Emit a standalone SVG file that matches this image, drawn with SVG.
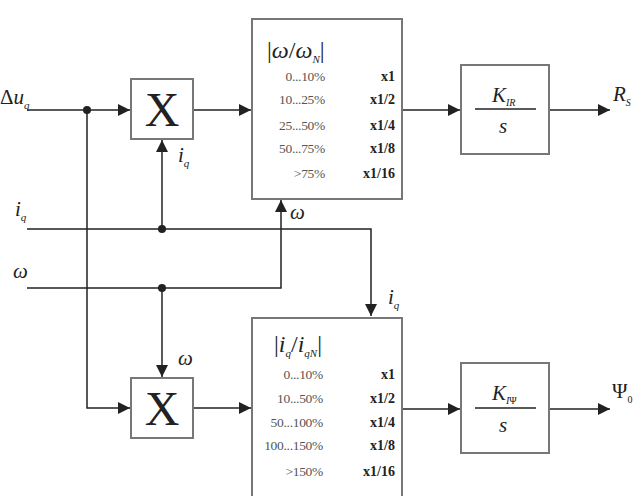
<svg xmlns="http://www.w3.org/2000/svg" width="635" height="496" viewBox="0 0 635 496">
<style>
.box{fill:#fff;stroke:#777;stroke-width:2}
.ln{fill:none;stroke:#222;stroke-width:1.5}
.t{font-family:"Liberation Serif",serif;font-style:italic;fill:#222}
.big{font-family:"Liberation Serif",serif;font-size:48px;fill:#222}
.rg{font-family:"Liberation Serif",serif;font-size:13.5px;fill:#555;text-anchor:end;letter-spacing:-0.3px}
.rb{font-family:"Liberation Serif",serif;font-size:14px;font-weight:bold;fill:#222;text-anchor:end}
</style>
<defs>
<marker id="ah" viewBox="0 0 10 10" refX="10" refY="5" markerWidth="12" markerHeight="12" markerUnits="userSpaceOnUse" orient="auto"><path d="M0,0 L10,5 L0,10 z" fill="#222"/></marker>
</defs>
<g id="connectors">
<path class="ln" d="M27,110 H130" marker-end="url(#ah)"/>
<path class="ln" d="M87,110 V408 H130" marker-end="url(#ah)"/>
<path class="ln" d="M27,229 H371 V316" marker-end="url(#ah)"/>
<path class="ln" d="M162,229 V140" marker-end="url(#ah)"/>
<path class="ln" d="M27,288 H281 V200" marker-end="url(#ah)"/>
<path class="ln" d="M162,288 V377" marker-end="url(#ah)"/>
<path class="ln" d="M193,110 H251" marker-end="url(#ah)"/>
<path class="ln" d="M193,408 H251" marker-end="url(#ah)"/>
<path class="ln" d="M402,110 H460" marker-end="url(#ah)"/>
<path class="ln" d="M402,409 H460" marker-end="url(#ah)"/>
<path class="ln" d="M549,110 H610" marker-end="url(#ah)"/>
<path class="ln" d="M549,409 H610" marker-end="url(#ah)"/>
<circle cx="87" cy="110" r="4" fill="#222"/>
<circle cx="162" cy="229" r="4" fill="#222"/>
<circle cx="162" cy="288" r="4" fill="#222"/>
</g>
<g id="labels">
<text class="t" x="0" y="104" font-size="21"><tspan font-style="normal">Δ</tspan>u<tspan font-size="11" dy="5">q</tspan></text>
<text class="t" x="15" y="216" font-size="21">i<tspan font-size="11" dy="5">q</tspan></text>
<text class="t" x="13" y="278" font-size="21">ω</text>
<text class="t" x="178" y="162" font-size="21">i<tspan font-size="11" dy="5">q</tspan></text>
<text class="t" x="290" y="219" font-size="21">ω</text>
<text class="t" x="388" y="304" font-size="21">i<tspan font-size="11" dy="5">q</tspan></text>
<text class="t" x="178" y="365" font-size="21">ω</text>
<text class="t" x="613" y="101" font-size="21">R<tspan font-size="10" dy="5">S</tspan></text>
<text class="t" x="612" y="398" font-size="21"><tspan font-style="normal">Ψ</tspan><tspan font-size="10" dy="5" font-style="normal">0</tspan></text>
</g>
<g id="mult1">
<rect class="box" x="131" y="79" width="62" height="60"/>
<text class="big" x="162" y="126" text-anchor="middle">X</text>
</g>
<g id="mult2">
<rect class="box" x="131" y="378" width="62" height="60"/>
<text class="big" x="162" y="425" text-anchor="middle">X</text>
</g>
<g id="table1">
<rect class="box" x="252" y="19" width="150" height="180"/>
<text class="t" x="267" y="58" font-size="24"><tspan font-style="normal">|</tspan>ω<tspan font-style="normal">/</tspan>ω<tspan font-size="11" dy="5">N</tspan><tspan font-style="normal" dy="-5">|</tspan></text>
<text class="rg" x="325" y="81">0...10%</text><text class="rb" x="395" y="81">x1</text>
<text class="rg" x="325" y="104">10...25%</text><text class="rb" x="395" y="104">x1/2</text>
<text class="rg" x="325" y="130">25...50%</text><text class="rb" x="395" y="130">x1/4</text>
<text class="rg" x="325" y="153">50...75%</text><text class="rb" x="395" y="153">x1/8</text>
<text class="rg" x="325" y="178">&gt;75%</text><text class="rb" x="395" y="178">x1/16</text>
</g>
<g id="table2">
<rect class="box" x="252" y="318" width="150" height="190"/>
<text class="t" x="274" y="352" font-size="24"><tspan font-style="normal">|</tspan>i<tspan font-size="11" dy="5">q</tspan><tspan font-style="normal" dy="-5">/</tspan>i<tspan font-size="11" dy="5">qN</tspan><tspan font-style="normal" dy="-5">|</tspan></text>
<text class="rg" x="323" y="379">0...10%</text><text class="rb" x="395" y="379">x1</text>
<text class="rg" x="323" y="403">10...50%</text><text class="rb" x="395" y="403">x1/2</text>
<text class="rg" x="323" y="427">50...100%</text><text class="rb" x="395" y="427">x1/4</text>
<text class="rg" x="323" y="450">100...150%</text><text class="rb" x="395" y="450">x1/8</text>
<text class="rg" x="323" y="476">&gt;150%</text><text class="rb" x="395" y="476">x1/16</text>
</g>
<g id="int1">
<rect class="box" x="461" y="65" width="88" height="89"/>
<text class="t" x="492" y="102" font-size="21">K<tspan font-size="10" dy="4">IR</tspan></text>
<line x1="475" y1="109" x2="536" y2="109" stroke="#222" stroke-width="1.5"/>
<text class="t" x="503" y="133" font-size="21" text-anchor="middle">s</text>
</g>
<g id="int2">
<rect class="box" x="461" y="363" width="88" height="90"/>
<text class="t" x="492" y="400" font-size="21">K<tspan font-size="10" dy="4">I<tspan font-style="normal">Ψ</tspan></tspan></text>
<line x1="475" y1="408" x2="536" y2="408" stroke="#222" stroke-width="1.5"/>
<text class="t" x="503" y="432" font-size="21" text-anchor="middle">s</text>
</g>
</svg>
